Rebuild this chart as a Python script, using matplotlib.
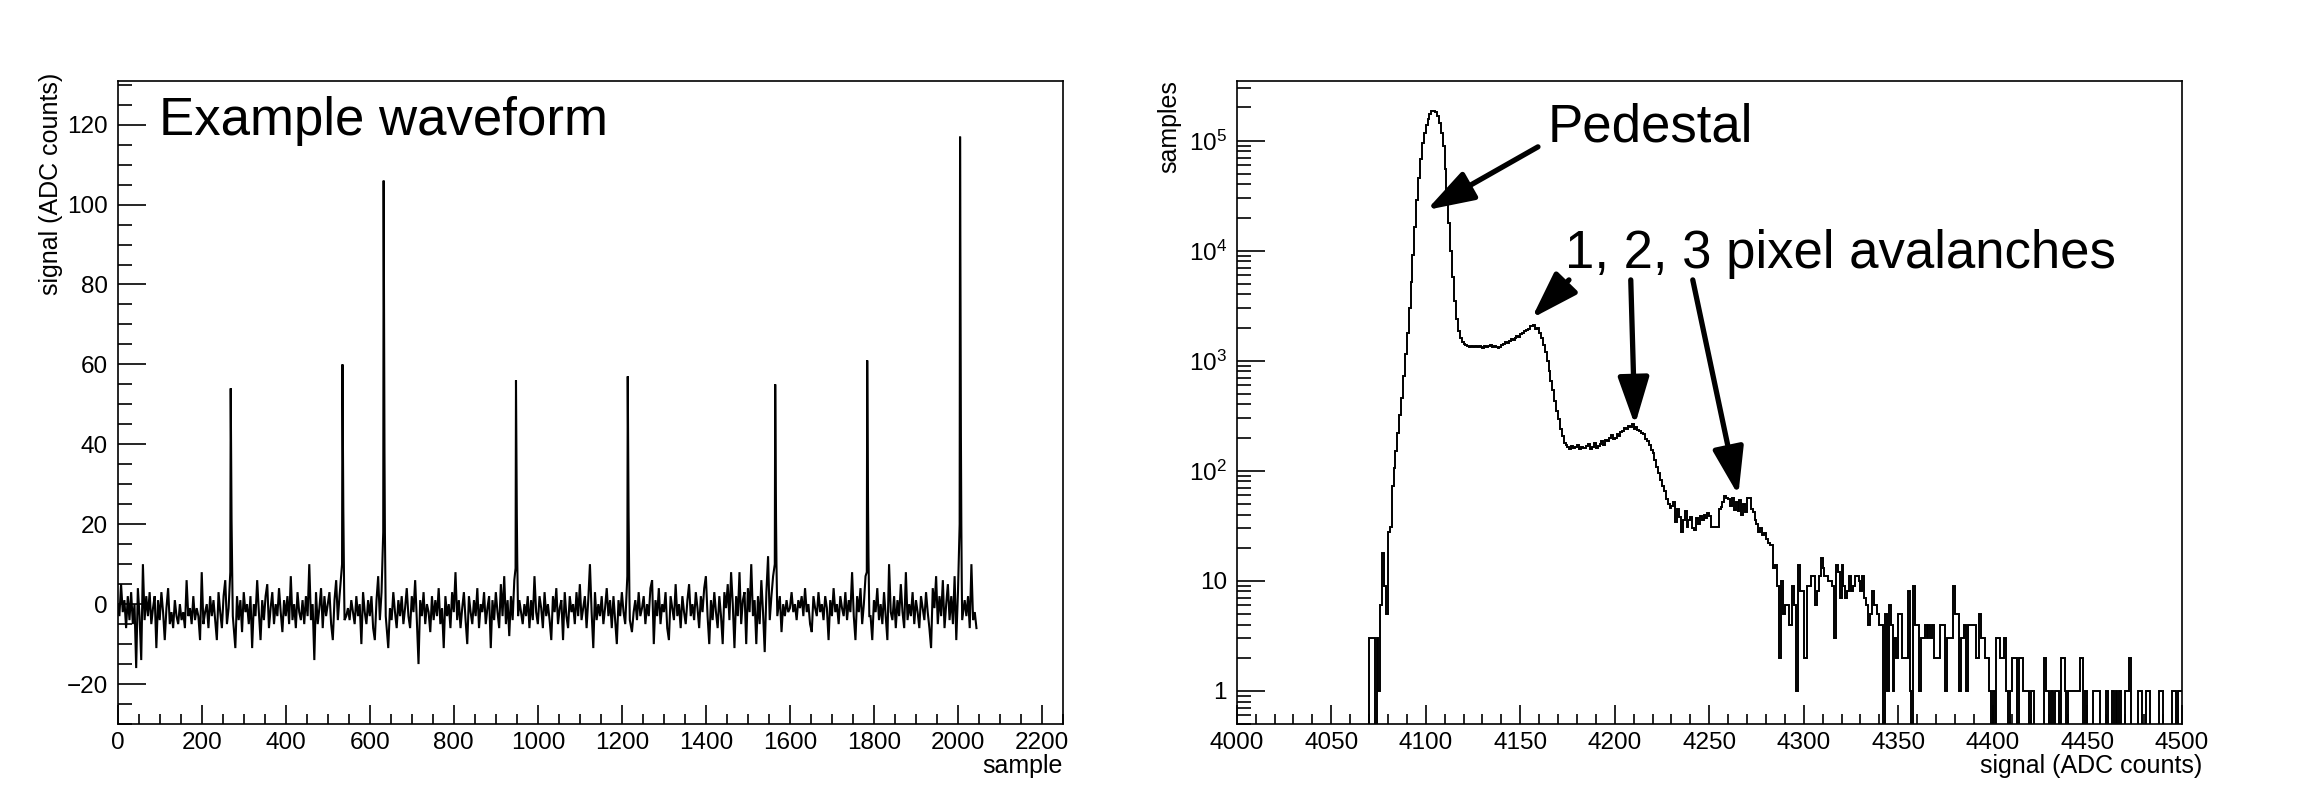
import numpy as np
import matplotlib
matplotlib.use("Agg")
import matplotlib.pyplot as plt
from matplotlib.ticker import MultipleLocator, LogLocator, FuncFormatter, NullFormatter

plt.rcParams['font.family'] = ['Liberation Sans', 'DejaVu Sans']
plt.rcParams['mathtext.fontset'] = 'custom'
plt.rcParams['mathtext.rm'] = 'Liberation Sans'
plt.rcParams['mathtext.it'] = 'Liberation Sans:italic'
plt.rcParams['mathtext.bf'] = 'Liberation Sans:bold'

# ---------------- data: waveform ----------------
noise_step = 4  # noise values read every 4 samples
wave_noise = [
    0, -3, 5, -2, 1, -6, 2, -4, 3, -5, 0, -16, 4, -3, -14, 10,
    -4, 2, -3, 3, -5, -1, 2, -11, 1, -4, 3, -2, -9, -1, 4, -5,
    -2, -6, 1, -3, -5, 0, -4, -2, -6, 6, -3, -1, -5, 2, -4, -1,
    -3, -9, 8, -5, -2, 0, -6, 2, -3, 1, -4, -9, 3, -2, -6, 2,
    6, -5, -1, 0, 0, 3, -11, 2, -4, 1, -7, 3, -2, 0, -5, 2,
    -11, 0, -3, 6, -2, -9, 1, -4, 2, 5, -6, -1, 3, -5, 0, -3,
    4, -2, -7, 1, -3, 2, -5, 7, -4, 0, -6, 3, -2, -4, 1, -5,
    2, -3, 10, -4, 0, -14, 3, -5, -1, 4, -6, 2, -3, 0, 3, -5,
    -9, 1, 6, -4, 2, -1, 0, 3, -3, -1, -4, 1, -2, -5, 2, -3,
    0, -10, 3, -2, -5, 1, -3, 2, -6, -9, 1, 7, -4, 3, 0, -3,
    2, -11, -1, -4, 3, -2, -6, 1, -3, 2, -5, -1, 4, -3, -6, 2,
    -2, 6, -4, -15, 1, -3, 3, -5, 0, -2, -7, 2, -4, 1, -3, 4,
    -5, -1, -11, 2, -3, 0, -6, 3, -2, 8, -4, 1, -6, -1, 3, -4,
    -10, 2, -2, -5, 1, -3, 4, -6, 0, -2, 3, -5, -1, 2, -11, 1,
    -4, 3, -2, -6, 5, -3, 7, -5, 1, -8, 2, -4, 6, 0, -3, 1,
    -2, -5, 0, -3, 2, -6, 1, -4, 7, -2, -5, 2, -1, -6, 3, -3,
    0, -4, -9, 2, -2, 4, -5, -1, 1, -9, 3, -3, -6, 2, -2, 0,
    -5, 3, -3, 5, -4, -1, 2, -6, 1, 10, -2, -11, 3, -4, 0, -3,
    2, -5, -1, 4, -3, 1, -6, 2, -4, -10, 1, -3, 3, -2, -5, 5,
    0, -1, -7, -2, 1, -4, 3, -3, -1, 2, -5, 0, -3, 4, 6, -10,
    1, -3, 4, -5, 0, -2, 3, -6, -9, 2, -1, -4, 5, -3, 0, -6,
    2, -2, -5, 1, 5, -3, 0, -4, 3, -1, -6, 2, -2, 4, 7, -3,
    -10, 1, -4, 3, -2, -6, 2, -3, -10, 3, -1, 5, -4, 8, 0, -11,
    2, -3, 8, -5, 1, 3, -10, 4, -2, 10, -3, 1, -10, 2, -5, 6,
    -2, -12, 3, 12, -4, 2, 7, 0, -1, -3, 2, -7, 0, -3, 1, -2,
    -1, 3, -2, 0, -4, 1, -1, 2, -3, 4, -2, 0, -5, -7, 2, -1,
    -3, 3, -2, 0, -4, 2, -1, -9, 1, -3, 4, -2, 0, -5, 2, -1,
    -3, 3, -4, 1, -2, 8, -3, -9, 2, -2, 4, -5, 0, 7, 0, -1,
    -3, -9, 1, -2, 4, -4, 0, -5, 3, -3, -9, 10, -2, -4, 2, -6,
    1, -3, 5, -2, -6, 8, -4, 0, -3, 3, -5, 1, -2, -6, 2, -1,
    -4, 3, -2, -6, -11, 4, -1, 7, -5, 2, -3, 6, -6, 0, 5, -4,
    2, -5, 7, -9, 3, 0, -2, -7, 1, -3, 2, -6, 10, -4, -2, -6,
]
spike_peak_samples = [269, 535, 633, 948, 1214, 1565, 1784, 2005]
# consecutive sample values starting one sample before each peak
spike_shapes = [
    [8, 54, 36, 21, 12, 4, -3],
    [10, 60, 41, 24, 12, 3, -4],
    [18, 106, 70, 38, 18, 6, -3],
    [9, 56, 38, 22, 11, 3, -3],
    [7, 57, 39, 22, 11, 2, -4],
    [10, 55, 37, 21, 10, 3, -3],
    [8, 61, 42, 24, 12, 4, -3],
    [20, 117, 78, 42, 20, 6, -4],
]

# ---------------- data: histogram ----------------
hist_range = (4000, 4500)
hist_first_bin = 4060
hist_counts = [
    0, 0, 0, 0, 0, 0, 0, 0, 0, 0,
    3, 3, 3, 0, 3, 1, 6, 18, 9, 5,
    28, 31, 72, 105, 150, 220, 320, 460, 720, 1150,
    1800, 3000, 5200, 9100, 16500, 29000, 46000, 68000, 95000, 118000,
    138000, 158000, 174000, 184000, 186000, 180000, 166000, 144000, 117000, 89000,
    55000, 32000, 18000, 10000, 5800, 3500, 2400, 1870, 1600, 1480,
    1420, 1400, 1370, 1340, 1360, 1320, 1350, 1330, 1360, 1340,
    1310, 1360, 1330, 1350, 1380, 1320, 1370, 1340, 1300, 1320,
    1400, 1430, 1470, 1450, 1520, 1560, 1530, 1620, 1680, 1650,
    1740, 1800, 1850, 1900, 1960, 2080, 2050, 2100, 1950, 1980,
    1800, 1620, 1400, 1200, 1000, 800, 650, 540, 430, 350,
    295, 240, 205, 180, 170, 165, 158, 168, 160, 163,
    170, 158, 165, 162, 160, 167, 175, 158, 165, 180,
    160, 168, 175, 185, 170, 190, 185, 200, 210, 195,
    200, 215, 205, 225, 230, 245, 240, 255, 250, 265,
    240, 250, 235, 228, 222, 215, 195, 185, 170, 155,
    145, 125, 108, 95, 82, 72, 66, 55, 50, 46,
    48, 52, 34, 45, 38, 28, 36, 43, 31, 36,
    38, 30, 29, 37, 33, 39, 36, 40, 37, 41,
    39, 31, 31, 31, 31, 45, 47, 52, 59, 57,
    55, 48, 56, 44, 52, 43, 54, 40, 50, 42,
    57, 56, 45, 42, 36, 33, 28, 30, 26, 27,
    24, 22, 21, 21, 13, 14, 9, 2, 10, 5,
    6, 6, 4, 4, 9, 6, 1, 14, 8, 8,
    2, 2, 9, 9, 11, 11, 6, 8, 11, 16,
    13, 11, 11, 10, 10, 9, 3, 14, 12, 7,
    14, 9, 7, 8, 11, 8, 9, 11, 11, 10,
    8, 11, 7, 6, 4, 5, 8, 6, 6, 5,
    4, 4, 0, 5, 1, 6, 4, 1, 3, 2,
    5, 5, 2, 2, 2, 8, 1, 0, 9, 4,
    4, 1, 3, 3, 4, 3, 4, 3, 4, 2,
    2, 2, 4, 4, 4, 1, 3, 3, 3, 9,
    5, 5, 1, 3, 3, 4, 1, 4, 4, 4,
    4, 2, 2, 5, 3, 3, 2, 2, 1, 0,
    1, 0, 3, 3, 2, 2, 3, 1, 0, 1,
    2, 2, 2, 0, 2, 2, 1, 1, 1, 0,
    1, 1, 0, 0, 0, 0, 0, 2, 1, 1,
    0, 1, 0, 1, 1, 0, 2, 2, 1, 0,
    1, 1, 1, 1, 1, 1, 2, 2, 0, 1,
    0, 0, 0, 1, 1, 1, 1, 0, 0, 0,
    1, 0, 0, 1, 0, 1, 0, 1, 0, 0,
    1, 1, 2, 0, 0, 0, 0, 1, 1, 0,
    0, 1, 1, 0, 0, 0, 0, 0, 1, 1,
    0, 0, 0, 0, 0, 1, 1, 0, 1, 1,
]

# annotation arrows (tail -> tip) in data coordinates
arrows = [
    ((4159.4, 87700), (4100.5, 23400)),
    ((4175.8, 5420), (4156.1, 2430)),
    ((4208.5, 5420), (4210.7, 260)),
    ((4241.3, 5420), (4265.4, 60)),
]

# ---------------- build waveform ----------------
wave = {i * noise_step: v for i, v in enumerate(wave_noise)}
for peak, shape in zip(spike_peak_samples, spike_shapes):
    start = peak - 1
    for s in list(wave):
        if start - 2 <= s <= start + len(shape) + 1:
            del wave[s]
    for k, v in enumerate(shape):
        wave[start + k] = v
wx = sorted(wave)
wy = [wave[s] for s in wx]

# ---------------- build histogram ----------------
edges = np.arange(hist_range[0], hist_range[1] + 1)
counts = np.zeros(len(edges) - 1)
i0 = hist_first_bin - hist_range[0]
counts[i0:i0 + len(hist_counts)] = hist_counts
plot_counts = np.where(counts > 0, counts, 1e-3)

# ---------------- figure ----------------
W, H = 2300, 805
fig = plt.figure(figsize=(W / 100, H / 100), dpi=100)
bot = (H - 724) / H
hgt = (724 - 80.7) / H
ax1 = fig.add_axes([117.7 / W, bot, (1063 - 117.7) / W, hgt])
ax2 = fig.add_axes([1236.7 / W, bot, (2181.7 - 1236.7) / W, hgt])

for ax in (ax1, ax2):
    for sp in ax.spines.values():
        sp.set_linewidth(1.2)
    ax.tick_params(which='both', direction='in', top=False, right=False,
                   labelsize=17.5, width=1.2)
    ax.tick_params(axis='y', which='major', length=20.5, pad=7)
    ax.tick_params(axis='y', which='minor', length=10.3)
    ax.tick_params(axis='x', which='major', length=14, pad=6)
    ax.tick_params(axis='x', which='minor', length=7)

# left panel
ax1.plot(wx, wy, color='black', lw=1.5, solid_joinstyle='miter')
ax1.set_xlim(0, 2250)
ax1.set_ylim(-30, 131)
ax1.xaxis.set_major_locator(MultipleLocator(200))
ax1.xaxis.set_minor_locator(MultipleLocator(50))
ax1.yaxis.set_major_locator(MultipleLocator(20))
ax1.yaxis.set_minor_locator(MultipleLocator(5))
ax1.text(97.9, 117.5, 'Example waveform', fontsize=38, ha='left', va='baseline')

# right panel
ax2.stairs(plot_counts, edges, color='black', lw=1.4, baseline=None)
ax2.set_yscale('log')
ax2.set_xlim(*hist_range)
ax2.set_ylim(0.5, 3.5e5)
ax2.xaxis.set_major_locator(MultipleLocator(50))
ax2.xaxis.set_minor_locator(MultipleLocator(10))
ax2.yaxis.set_major_locator(LogLocator(base=10, numticks=20))
ax2.yaxis.set_minor_locator(LogLocator(base=10, subs=np.arange(2, 10), numticks=20))
ax2.yaxis.set_minor_formatter(NullFormatter())


def logfmt(v, pos):
    e = int(round(np.log10(v)))
    if e == 0:
        return '1'
    if e == 1:
        return '10'
    return r'$10^{%d}$' % e


ax2.yaxis.set_major_formatter(FuncFormatter(logfmt))

ax2.text(4164.7, 98000, 'Pedestal', fontsize=38, ha='left', va='baseline')
ax2.text(4173.8, 6960, '1, 2, 3 pixel avalanches', fontsize=38, ha='left', va='baseline')
for tail, tip in arrows:
    ax2.annotate('', xy=tip, xytext=tail,
                 arrowprops=dict(arrowstyle='-|>,head_length=2.9,head_width=0.95',
                                 lw=3.8, color='black', shrinkA=0, shrinkB=0,
                                 mutation_scale=10))

# axis titles (ROOT style, aligned at axis ends)
fig.text(51 / W, 1 - 73 / H, 'signal (ADC counts)', rotation=90, ha='center', va='top', fontsize=18)
fig.text(1063 / W, 1 - 773 / H, 'sample', ha='right', va='baseline', fontsize=18)
fig.text(1169 / W, 1 - 80 / H, 'samples', rotation=90, ha='center', va='top', fontsize=18)
fig.text(2202 / W, 1 - 773 / H, 'signal (ADC counts)', ha='right', va='baseline', fontsize=18)

fig.savefig('out.png', dpi=100)
